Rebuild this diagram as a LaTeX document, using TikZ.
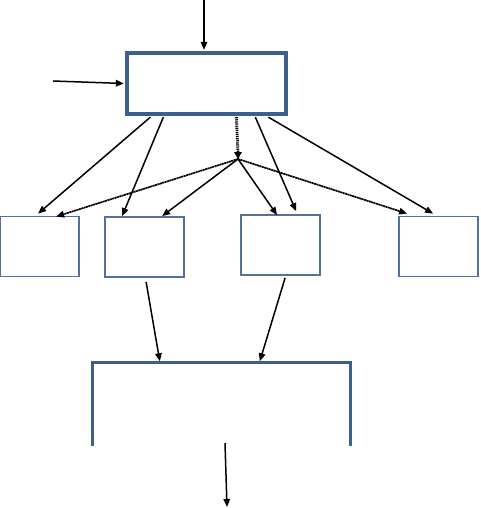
\documentclass[tikz,border=0pt]{standalone}
\usetikzlibrary{arrows.meta, positioning}
\definecolor{boxblue}{RGB}{61,95,142}
\definecolor{lightblue}{RGB}{84,112,158}

\begin{document}
\begin{tikzpicture}[
x=1pt, y=-1pt,
bigbox/.style={draw=boxblue, line width=3.3pt, rectangle, minimum width=159pt, minimum height=61pt},
box/.style={draw=lightblue, line width=1.8pt, rectangle, minimum width=79pt, minimum height=60pt},
arrow/.style={-{Triangle[length=8pt,width=6.5pt]}, line width=1.5pt},
grainy/.style={arrow, line width=1.7pt, dash pattern=on 2pt off 0.5pt},
dots/.style={line width=2.8pt, dash pattern=on 1.2pt off 0.9pt}
]
\useasboundingbox (0,0) rectangle (480,508);

\node[bigbox] (main) at (206.5,83.5) {};

\node[box] (b1) at (39.5,246.5) {};
\node[box] (b2) at (144.5,247) {};
\node[box] (b3) at (280.5,245) {};
\node[box] (b4) at (438.5,246.5) {};

\node[minimum width=257pt, minimum height=83pt, inner sep=0pt] (merge) at (221.5,404.5) {};
\draw[boxblue, line width=3.3pt] (merge.south west) -- (merge.north west) -- (merge.north east) -- (merge.south east);

\coordinate (in1) at (204,0);
\coordinate (in2) at (53,81);
\coordinate (hub) at (238,159);
\coordinate (out) at (227,507);

\draw[arrow] (in1) -- ([xshift=-2.5pt,yshift=1.5pt]main.north);
\draw[arrow] (in2) -- ([xshift=-1.5pt]main.west);

\draw[arrow] ([xshift=25pt,yshift=-1.5pt]main.south west) -- ([xshift=39pt,yshift=2pt]b1.north west);
\draw[arrow] ([xshift=38pt,yshift=-1.5pt]main.south west) -- ([xshift=18pt,yshift=0pt]b2.north west);
\draw[arrow] ([xshift=130pt,yshift=-1.5pt]main.south west) -- ([xshift=56pt,yshift=3pt]b3.north west);
\draw[arrow] ([xshift=143pt,yshift=-1.5pt]main.south west) -- ([xshift=35pt,yshift=2pt]b4.north west);

\draw[dots] ([xshift=111pt,yshift=-1.5pt]main.south west) -- ([yshift=6pt]hub);
\fill (hub) -- ++(-4,-7) -- ++(8,0) -- cycle;

\draw[grainy] (hub) -- ([xshift=57pt,yshift=-1pt]b1.north west);
\draw[arrow] (hub) -- ([xshift=58pt,yshift=0pt]b2.north west);
\draw[arrow] (hub) -- ([xshift=37pt,yshift=-1pt]b3.north west);
\draw[grainy] (hub) -- ([xshift=9pt,yshift=2pt]b4.north west);

\draw[arrow] ([xshift=42pt,yshift=-4pt]b2.south west) -- ([xshift=67pt,yshift=1.5pt]merge.north west);
\draw[arrow] ([xshift=45pt,yshift=-2pt]b3.south west) -- ([xshift=167pt,yshift=1.5pt]merge.north west);

\draw[arrow] ([xshift=3.5pt,yshift=3pt]merge.south) -- (out);

\end{tikzpicture}
\end{document}
